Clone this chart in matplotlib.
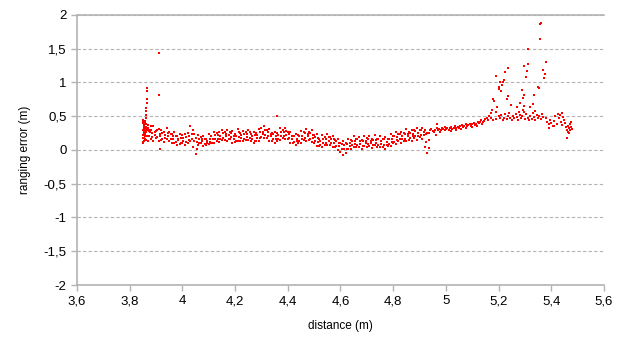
import matplotlib
matplotlib.use("Agg")
import matplotlib.pyplot as plt

plt.rcParams['font.family'] = ['Liberation Sans', 'DejaVu Sans']

# dense band 3.85 - 4.93 m
band_x1 = [3.850, 3.860, 3.870, 3.880, 3.890, 3.900, 3.910, 3.920, 3.930, 3.940,
           3.950, 3.960, 3.970, 3.980, 3.990, 4.000, 4.010, 4.020, 4.030, 4.040,
           4.050, 4.060, 4.070, 4.080, 4.090, 4.100, 4.110, 4.120, 4.130, 4.140,
           4.150, 4.160, 4.170, 4.180, 4.190, 4.200, 4.210, 4.220, 4.230, 4.240,
           4.250, 4.260, 4.270, 4.280, 4.290, 4.300, 4.310, 4.320, 4.330, 4.340,
           4.350, 4.360, 4.370, 4.380, 4.390, 4.400, 4.410, 4.420, 4.430, 4.440,
           4.450, 4.460, 4.470, 4.480, 4.490, 4.500, 4.510, 4.520, 4.530, 4.540,
           4.550, 4.560, 4.570, 4.580, 4.590, 4.600, 4.610, 4.620, 4.630, 4.640,
           4.650, 4.660, 4.670, 4.680, 4.690, 4.700, 4.710, 4.720, 4.730, 4.740,
           4.750, 4.760, 4.770, 4.780, 4.790, 4.800, 4.810, 4.820, 4.830, 4.840,
           4.850, 4.860, 4.870, 4.880, 4.890, 4.900, 4.910, 4.920, 4.930]
band_x2 = [3.855, 3.864, 3.875, 3.884, 3.895, 3.904, 3.915, 3.924, 3.935, 3.944,
           3.955, 3.964, 3.975, 3.984, 3.995, 4.004, 4.015, 4.024, 4.035, 4.044,
           4.055, 4.064, 4.075, 4.084, 4.095, 4.104, 4.115, 4.124, 4.135, 4.144,
           4.155, 4.164, 4.175, 4.184, 4.195, 4.204, 4.215, 4.224, 4.235, 4.244,
           4.255, 4.264, 4.275, 4.284, 4.295, 4.304, 4.315, 4.324, 4.335, 4.344,
           4.355, 4.364, 4.375, 4.384, 4.395, 4.404, 4.415, 4.424, 4.435, 4.444,
           4.455, 4.464, 4.475, 4.484, 4.495, 4.504, 4.515, 4.524, 4.535, 4.544,
           4.555, 4.564, 4.575, 4.584, 4.595, 4.604, 4.615, 4.624, 4.635, 4.644,
           4.655, 4.664, 4.675, 4.684, 4.695, 4.704, 4.715, 4.724, 4.735, 4.744,
           4.755, 4.764, 4.775, 4.784, 4.795, 4.804, 4.815, 4.824, 4.835, 4.844,
           4.855, 4.864, 4.875, 4.884, 4.895, 4.904, 4.915, 4.924, 4.934]
band_a = [0.42, 0.38, 0.33, 0.30, 0.35, 0.28, 0.31, 0.29, 0.26, 0.33,
          0.27, 0.24, 0.26, 0.21, 0.23, 0.22, 0.24, 0.25, 0.35, 0.29,
          0.18, 0.22, 0.19, 0.21, 0.17, 0.23, 0.20, 0.27, 0.25, 0.26,
          0.29, 0.27, 0.29, 0.26, 0.28, 0.23, 0.31, 0.25, 0.28, 0.27,
          0.30, 0.24, 0.27, 0.25, 0.31, 0.32, 0.36, 0.29, 0.31, 0.25,
          0.27, 0.25, 0.32, 0.29, 0.32, 0.26, 0.27, 0.21, 0.24, 0.22,
          0.28, 0.26, 0.31, 0.26, 0.29, 0.22, 0.23, 0.17, 0.22, 0.19,
          0.24, 0.19, 0.21, 0.15, 0.17, 0.11, 0.13, 0.10, 0.17, 0.15,
          0.20, 0.17, 0.19, 0.15, 0.21, 0.18, 0.21, 0.16, 0.22, 0.17,
          0.20, 0.17, 0.19, 0.17, 0.23, 0.21, 0.26, 0.24, 0.27, 0.25,
          0.31, 0.26, 0.30, 0.29, 0.33, 0.30, 0.33, 0.30, 0.25]
band_b = [0.12, 0.15, 0.14, 0.16, 0.13, 0.18, 0.14, 0.15, 0.12, 0.16,
          0.13, 0.10, 0.11, 0.08, 0.09, 0.11, 0.07, 0.11, 0.13, 0.05,
          -0.06, 0.08, 0.10, 0.06, 0.07, 0.09, 0.10, 0.11, 0.14, 0.12,
          0.15, 0.15, 0.13, 0.16, 0.11, 0.12, 0.14, 0.14, 0.13, 0.15,
          0.15, 0.13, 0.10, 0.14, 0.14, 0.19, 0.18, 0.18, 0.14, 0.14,
          0.10, 0.14, 0.15, 0.18, 0.17, 0.16, 0.10, 0.11, 0.07, 0.11,
          0.11, 0.15, 0.14, 0.15, 0.12, 0.11, 0.06, 0.06, 0.05, 0.08,
          0.07, 0.08, 0.04, 0.04, 0.00, -0.03, -0.07, -0.04, 0.02, 0.02,
          0.05, 0.04, 0.05, 0.02, 0.06, 0.05, 0.06, 0.03, 0.07, 0.04,
          0.05, 0.04, 0.02, 0.06, 0.06, 0.10, 0.09, 0.13, 0.10, 0.14,
          0.14, 0.15, 0.14, 0.18, 0.15, 0.19, 0.16, 0.05, -0.04]
band_c = [0.33, 0.29, 0.28, 0.25, 0.27, 0.30, 0.24, 0.25, 0.22, 0.25,
          0.23, 0.20, 0.20, 0.17, 0.18, 0.18, 0.19, 0.21, 0.23, 0.23,
          0.12, 0.17, 0.16, 0.16, 0.13, 0.17, 0.17, 0.22, 0.22, 0.20,
          0.25, 0.24, 0.22, 0.25, 0.21, 0.20, 0.26, 0.22, 0.24, 0.23,
          0.26, 0.21, 0.22, 0.22, 0.26, 0.27, 0.30, 0.26, 0.24, 0.24,
          0.20, 0.22, 0.27, 0.26, 0.28, 0.24, 0.20, 0.20, 0.17, 0.21,
          0.21, 0.25, 0.24, 0.25, 0.22, 0.19, 0.18, 0.14, 0.17, 0.16,
          0.19, 0.16, 0.16, 0.14, 0.10, 0.09, 0.07, 0.09, 0.10, 0.14,
          0.13, 0.16, 0.13, 0.14, 0.14, 0.17, 0.14, 0.15, 0.15, 0.16,
          0.13, 0.16, 0.12, 0.16, 0.16, 0.20, 0.19, 0.23, 0.20, 0.24,
          0.24, 0.25, 0.24, 0.28, 0.25, 0.29, 0.26, 0.24, 0.15]
band_d = [0.18, 0.21, 0.20, 0.19, 0.22, 0.19, 0.20, 0.17, 0.18, 0.20,
          0.16, 0.16, 0.12, 0.15, 0.11, 0.14, 0.12, 0.15, 0.17, 0.13,
          0.02, 0.11, 0.13, 0.09, 0.10, 0.12, 0.11, 0.16, 0.16, 0.16,
          0.18, 0.20, 0.16, 0.19, 0.17, 0.14, 0.19, 0.18, 0.16, 0.19,
          0.18, 0.17, 0.14, 0.18, 0.18, 0.23, 0.22, 0.20, 0.20, 0.16,
          0.16, 0.17, 0.21, 0.20, 0.22, 0.18, 0.16, 0.12, 0.13, 0.14,
          0.17, 0.18, 0.20, 0.17, 0.18, 0.13, 0.12, 0.08, 0.11, 0.10,
          0.13, 0.10, 0.10, 0.06, 0.06, 0.02, 0.02, 0.01, 0.06, 0.07,
          0.09, 0.08, 0.09, 0.06, 0.10, 0.09, 0.10, 0.07, 0.11, 0.08,
          0.09, 0.08, 0.07, 0.09, 0.12, 0.12, 0.15, 0.16, 0.16, 0.17,
          0.20, 0.18, 0.20, 0.20, 0.21, 0.22, 0.22, 0.12, 0.03]

# block and spike near 3.85 - 3.87 m, plus isolated outliers
spike_x = [3.850, 3.852, 3.853, 3.855, 3.857, 3.858, 3.860, 3.861, 3.862, 3.863,
           3.864, 3.865, 3.866, 3.866, 3.910, 3.912, 3.915, 4.358, 3.870, 3.880,
           3.850, 3.851, 3.852, 3.853, 3.854, 3.856, 3.857, 3.858, 3.859, 3.860,
           3.851, 3.853, 3.855, 3.857, 3.859, 3.862, 3.866, 3.868, 3.872, 3.876]
spike_y = [0.45, 0.10, 0.38, 0.13, 0.40, 0.16, 0.48, 0.52, 0.58, 0.62,
           0.70, 0.75, 0.88, 0.92, 1.43, 0.81, 0.01, 0.50, 0.37, 0.36,
           0.22, 0.30, 0.18, 0.26, 0.35, 0.24, 0.31, 0.20, 0.28, 0.34,
           0.40, 0.14, 0.29, 0.23, 0.43, 0.27, 0.33, 0.21, 0.30, 0.26]

# thin rising trace 4.93 - 5.16 m
trace_x = [4.940, 4.950, 4.960, 4.965, 4.970, 4.975, 4.980, 4.985, 4.990, 4.995,
           5.000, 5.005, 5.010, 5.015, 5.020, 5.025, 5.030, 5.035, 5.040, 5.045,
           5.050, 5.055, 5.060, 5.065, 5.070, 5.075, 5.080, 5.085, 5.090, 5.095,
           5.100, 5.105, 5.110, 5.115, 5.120, 5.125, 5.130, 5.135, 5.140, 5.145,
           5.150, 4.955, 4.962, 4.966, 4.978, 4.998, 5.018, 5.038, 5.058, 5.078,
           5.098, 5.118, 5.138, 5.155, 5.160, 4.935, 4.945]
trace_y = [0.29, 0.28, 0.30, 0.33, 0.29, 0.31, 0.30, 0.32, 0.31, 0.29,
           0.31, 0.33, 0.30, 0.32, 0.34, 0.31, 0.33, 0.35, 0.32, 0.34,
           0.33, 0.35, 0.37, 0.34, 0.36, 0.38, 0.35, 0.37, 0.39, 0.36,
           0.38, 0.40, 0.37, 0.39, 0.41, 0.40, 0.42, 0.44, 0.41, 0.43,
           0.46, 0.26, 0.22, 0.38, 0.27, 0.34, 0.28, 0.30, 0.31, 0.33,
           0.34, 0.35, 0.38, 0.48, 0.44, 0.25, 0.31]

# scattered cloud 5.16 - 5.38 m
cloud_x = [5.361, 5.358, 5.357, 5.310, 5.381, 5.313, 5.295, 5.234, 5.224, 5.306,
           5.369, 5.377, 5.190, 5.304, 5.373, 5.222, 5.217, 5.205, 5.212, 5.354,
           5.200, 5.209, 5.287, 5.298, 5.237, 5.334, 5.180, 5.292, 5.232, 5.183,
           5.332, 5.282, 5.297, 5.195, 5.246, 5.271, 5.319, 5.174, 5.291, 5.338,
           5.189, 5.276, 5.350, 5.202, 5.165, 5.170,
           5.170, 5.180, 5.190, 5.200, 5.205, 5.210, 5.215, 5.220, 5.225, 5.230,
           5.235, 5.240, 5.245, 5.250, 5.255, 5.260, 5.265, 5.270, 5.275, 5.280,
           5.285, 5.290, 5.295, 5.300, 5.305, 5.310, 5.315, 5.320, 5.325, 5.330,
           5.335, 5.340, 5.345, 5.350, 5.355, 5.360, 5.365, 5.370]
cloud_y = [1.88, 1.86, 1.64, 1.49, 1.31, 1.27, 1.24, 1.22, 1.16, 1.17,
           1.19, 1.13, 1.09, 1.08, 1.07, 1.03, 1.01, 1.01, 0.96, 0.92,
           0.90, 0.87, 0.89, 0.82, 0.80, 0.81, 0.75, 0.77, 0.75, 0.73,
           0.68, 0.69, 0.65, 0.64, 0.67, 0.64, 0.64, 0.59, 0.59, 0.58,
           0.57, 0.57, 0.93, 0.93, 0.50, 0.55,
           0.48, 0.44, 0.46, 0.50, 0.47, 0.52, 0.45, 0.48, 0.53, 0.46,
           0.50, 0.55, 0.48, 0.45, 0.51, 0.47, 0.54, 0.49, 0.44, 0.52,
           0.47, 0.50, 0.56, 0.46, 0.53, 0.48, 0.44, 0.51, 0.46, 0.55,
           0.49, 0.45, 0.52, 0.48, 0.50, 0.46, 0.53, 0.49]

# tail cluster 5.38 - 5.48 m
tail_x = [5.385, 5.390, 5.395, 5.400, 5.405, 5.410, 5.415, 5.420, 5.425, 5.430,
          5.435, 5.440, 5.445, 5.450, 5.455, 5.460, 5.462, 5.465, 5.468, 5.470,
          5.472, 5.458, 5.392, 5.412, 5.432, 5.442, 5.452, 5.466, 5.474, 5.380,
          5.476, 5.478]
tail_y = [0.42, 0.38, 0.45, 0.40, 0.36, 0.43, 0.50, 0.39, 0.53, 0.47,
          0.41, 0.37, 0.49, 0.44, 0.34, 0.30, 0.27, 0.36, 0.32, 0.29,
          0.38, 0.18, 0.33, 0.35, 0.52, 0.55, 0.40, 0.25, 0.34, 0.47,
          0.41, 0.31]

x_ticks = [3.6, 3.8, 4.0, 4.2, 4.4, 4.6, 4.8, 5.0, 5.2, 5.4, 5.6]
x_labels = ["3,6", "3,8", "4", "4,2", "4,4", "4,6", "4,8", "5", "5,2", "5,4", "5,6"]
y_ticks = [-2, -1.5, -1, -0.5, 0, 0.5, 1, 1.5, 2]
y_labels = ["-2", "-1,5", "-1", "-0,5", "0", "0,5", "1", "1,5", "2"]

fig = plt.figure(figsize=(6.25, 3.37), dpi=100)
ax = fig.add_axes([0.1232, 0.1543, 0.8432, 0.8012])

grey = "#b3b3b3"
red = "#ff0000"
kw = dict(s=4.5, marker="s", color=red, linewidths=0)

ax.scatter(band_x1, band_a, **kw)
ax.scatter(band_x1, band_b, **kw)
ax.scatter(band_x2, band_c, **kw)
ax.scatter(band_x2, band_d, **kw)
ax.scatter(spike_x, spike_y, **kw)
ax.scatter(trace_x, trace_y, **kw)
ax.scatter(cloud_x, cloud_y, **kw)
ax.scatter(tail_x, tail_y, **kw)

ax.set_xlim(3.6, 5.6)
ax.set_ylim(-2, 2)
ax.set_xticks(x_ticks)
ax.set_xticklabels(x_labels)
ax.set_yticks(y_ticks)
ax.set_yticklabels(y_labels)
ax.grid(axis="y", color=grey, linestyle=(0, (3, 2)), linewidth=0.8)
ax.set_axisbelow(True)

for side in ["left", "bottom", "top"]:
    ax.spines[side].set_color(grey)
    ax.spines[side].set_linewidth(1.2)
ax.spines["right"].set_visible(False)
ax.tick_params(axis="both", colors=grey, labelcolor="#000000", labelsize=9.5,
               length=4, width=1)

ax.set_xlabel("distance (m)", fontsize=8.5, labelpad=9)
ax.set_ylabel("ranging error (m)", fontsize=8.5, labelpad=9)

fig.savefig("out.png", dpi=100)
